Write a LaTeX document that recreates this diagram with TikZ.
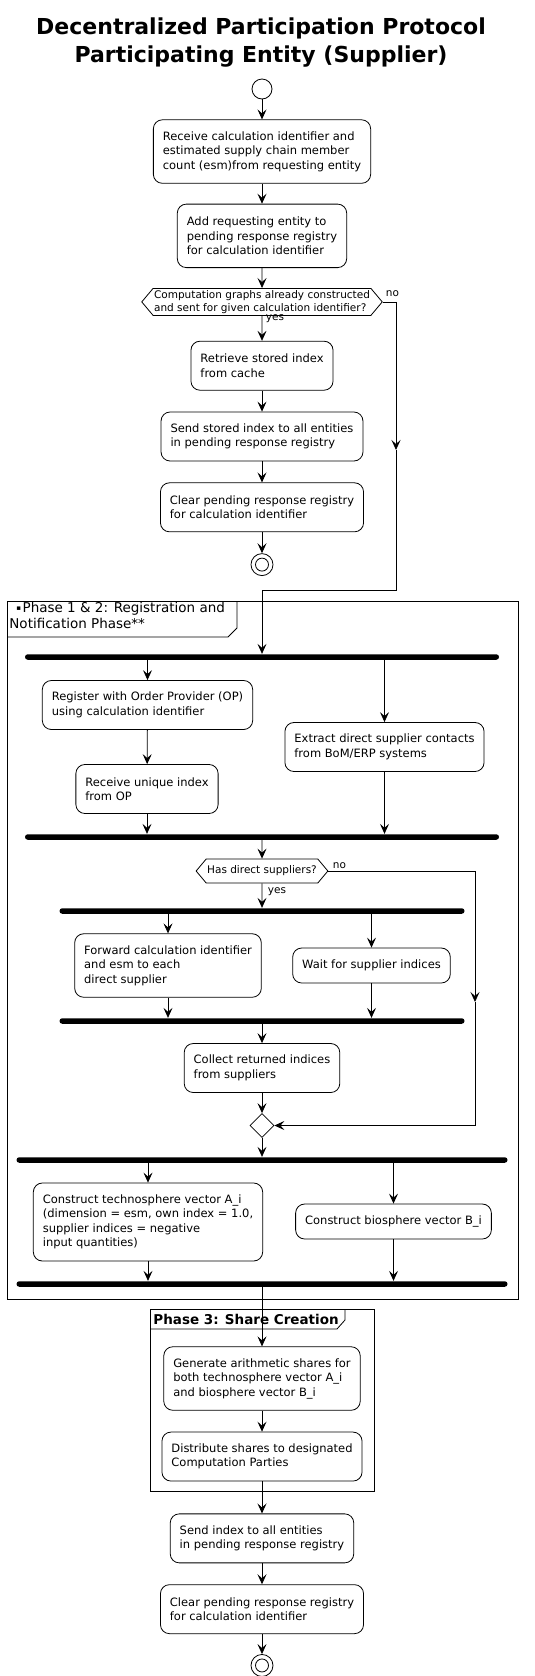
\documentclass[tikz,border=0pt]{standalone}
\usepackage{fontspec}
\setmainfont{DejaVu Sans}
\usetikzlibrary{positioning,arrows.meta,shapes.geometric,shapes.symbols}

\begin{document}
\begin{tikzpicture}[
    x=1pt, y=-1pt,
    font=\fontsize{11.5}{14.5}\selectfont,
    line width=0.8pt,
    >={Stealth[length=10pt,width=9pt,inset=4pt]},
    act/.style={
        draw, rounded corners=9pt, align=left,
        inner xsep=9.5pt, inner ysep=3pt
    },
    one/.style={act, minimum height=35pt},
    two/.style={act, minimum height=49pt},
    three/.style={act, minimum height=63.5pt},
    four/.style={act, minimum height=78pt},
    cond/.style={
        draw, shape=signal, signal to=west and east,
        signal pointer angle=100, align=left,
        inner xsep=1pt, inner ysep=1pt,
        font=\fontsize{10.5}{13}\selectfont
    },
    bar/.style={fill=black, rounded corners=2.7pt, minimum height=5.5pt, inner sep=0pt},
    startnode/.style={draw, circle, minimum size=20pt, inner sep=0pt},
    endnode/.style={
        draw, circle, minimum size=22pt, inner sep=0pt,
        path picture={\draw (path picture bounding box.center) circle (6.5pt);}
    },
    lbl/.style={font=\fontsize{10.5}{12}\selectfont, inner sep=0.5pt},
    frametitle/.style={font=\fontsize{13.5}{16}\selectfont, align=left, inner sep=0pt}
]
\useasboundingbox (0,0) rectangle (535,1676);

% title
\node [font=\bfseries\fontsize{22}{28}\selectfont, align=center] (title) at (261,43)
    {Decentralized Participation Protocol\\Participating Entity (Supplier)};

% entry and cache check
\node [startnode] (start) at (262,89) {};
\node [three, below=20pt of start] (recv) {Receive calculation identifier and\\estimated supply chain member\\count (esm)from requesting entity};
\node [three, below=20pt of recv] (addreg) {Add requesting entity to\\pending response registry\\for calculation identifier};
\node [cond, minimum height=27pt, below=20pt of addreg] (cached) {Computation graphs already constructed\\and sent for given calculation identifier?};
\node [two, below=25pt of cached] (fetch) {Retrieve stored index\\from cache};
\node [two, below=21pt of fetch] (sendold) {Send stored index to all entities\\in pending response registry};
\node [two, below=21pt of sendold] (clearold) {Clear pending response registry\\for calculation identifier};
\node [endnode, below=21pt of clearold] (stop1) {};

\node [lbl, anchor=west] (no1) at (385,294) {no};
\node [lbl, anchor=west] (yes1) at (265,319) {yes};

% phase 1 & 2 frame
\draw (7,601) rectangle (518,1299);
\draw (7,637) -- (228,637) -- (237,628) -- (237,601);
\node [frametitle, anchor=north west] (ph12) at (9,602)
    {\hspace{7pt}\raisebox{2.5pt}{\fontsize{7}{8}\selectfont ▪}\hspace{1.5pt}Phase 1 \& 2: Registration and\\Notification Phase**};

\node [bar, minimum width=474pt] (fork1) at (262,657) {};
\node [two] (regop) at (147.5,705) {Register with Order Provider (OP)\\using calculation identifier};
\node [two] (getidx) at (147,789) {Receive unique index\\from OP};
\node [two] (extract) at (384.5,747) {Extract direct supplier contacts\\from BoM/ERP systems};
\node [bar, minimum width=474pt] (join1) at (262,837) {};

\node [cond, minimum height=24pt] (hassup) at (262,871) {Has direct suppliers?};
\node [lbl, anchor=west] (no2) at (332,866) {no};
\node [lbl, anchor=west] (yes2) at (267,892) {yes};

\node [bar, minimum width=405pt] (fork2) at (262,911) {};
\node [three] (forward) at (168,965.5) {Forward calculation identifier\\and esm to each\\direct supplier};
\node [one] (wait) at (371.5,965.5) {Wait for supplier indices};
\node [bar, minimum width=405pt] (join2) at (262,1021) {};
\node [two] (collect) at (262,1068) {Collect returned indices\\from suppliers};
\node [draw, diamond, minimum size=24pt, inner sep=0pt] (merge) at (262,1125.5) {};

\node [bar, minimum width=491pt] (fork3) at (262,1160) {};
\node [four] (techvec) at (148,1222) {Construct technosphere vector A\_i\\(dimension = esm, own index = 1.0,\\supplier indices = negative\\input quantities)};
\node [one] (biovec) at (393.5,1221.5) {Construct biosphere vector B\_i};
\node [bar, minimum width=491pt] (join3) at (262,1284) {};

% phase 3 frame
\draw (150,1309) rectangle (374,1491);
\draw (150,1329) -- (337,1329) -- (345,1320) -- (345,1309);
\node [frametitle, font=\bfseries\fontsize{13.5}{16}\selectfont, anchor=west] (ph3) at (153,1319.5) {Phase 3: Share Creation};

\node [three] (genshares) at (262,1378.5) {Generate arithmetic shares for\\both technosphere vector A\_i\\and biosphere vector B\_i};
\node [two, below=21pt of genshares] (distrib) {Distribute shares to designated\\Computation Parties};
\node [two, below=32pt of distrib] (sendidx) {Send index to all entities\\in pending response registry};
\node [two, below=21pt of sendidx] (clearreg) {Clear pending response registry\\for calculation identifier};
\node [endnode, below=20pt of clearreg] (stop2) {};

% connectors
\draw [->] (start) -- (recv);
\draw [->] (recv) -- (addreg);
\draw [->] (addreg) -- (cached);
\draw [->] (cached) -- (fetch);
\draw [->] (fetch) -- (sendold);
\draw [->] (sendold) -- (clearold);
\draw [->] (clearold) -- (stop1);

\coordinate (nomid1) at (396,450);
\coordinate (nobend1) at (262,590);
\draw (cached.east) -- (cached.east -| nomid1);
\draw [->] (cached.east -| nomid1) -- (nomid1);
\draw (nomid1) |- (nobend1);
\draw [->] (nobend1) -- (fork1);

\draw [->] (fork1.south -| regop.north) -- (regop.north);
\draw [->] (fork1.south -| extract.north) -- (extract.north);
\draw [->] (regop) -- (getidx);
\draw [->] (getidx.south) -- (getidx.south |- join1.north);
\draw [->] (extract.south) -- (extract.south |- join1.north);
\draw [->] (join1) -- (hassup);

\draw [->] (hassup) -- (fork2);
\draw [->] (fork2.south -| forward.north) -- (forward.north);
\draw [->] (fork2.south -| wait.north) -- (wait.north);
\draw [->] (forward.south) -- (forward.south |- join2.north);
\draw [->] (wait.south) -- (wait.south |- join2.north);
\draw [->] (join2) -- (collect);
\draw [->] (collect) -- (merge);

\coordinate (nomid2) at (475,1002);
\draw (hassup.east) -- (hassup.east -| nomid2);
\draw [->] (hassup.east -| nomid2) -- (nomid2);
\draw [->] (nomid2) |- (merge.east);

\draw [->] (merge) -- (fork3);
\draw [->] (fork3.south -| techvec.north) -- (techvec.north);
\draw [->] (fork3.south -| biovec.north) -- (biovec.north);
\draw [->] (techvec.south) -- (techvec.south |- join3.north);
\draw [->] (biovec.south) -- (biovec.south |- join3.north);

\draw [->] (join3) -- (genshares);
\draw [->] (genshares) -- (distrib);
\draw [->] (distrib) -- (sendidx);
\draw [->] (sendidx) -- (clearreg);
\draw [->] (clearreg) -- (stop2);

\end{tikzpicture}
\end{document}
